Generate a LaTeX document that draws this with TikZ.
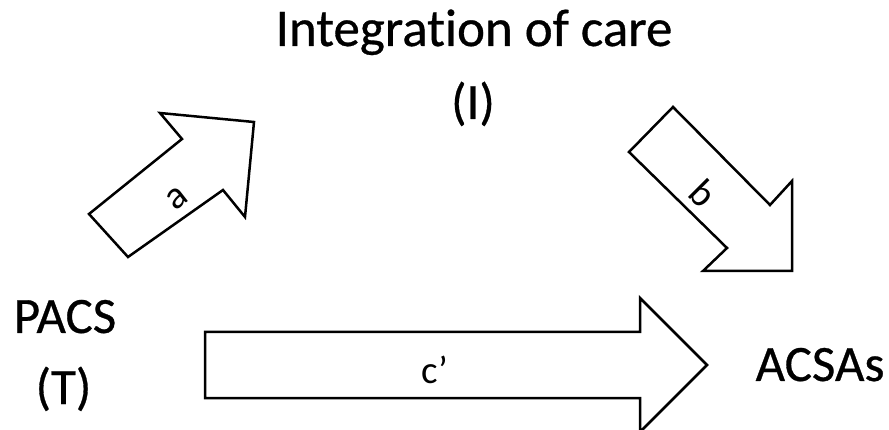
\documentclass[tikz,border=0pt]{standalone}
\usepackage{fontspec}
\setmainfont{Carlito}[Ligatures=NoCommon]
\newfontfamily\bigfont{Carlito}[Ligatures=NoCommon,FakeBold=0.6]
\begin{document}
\begin{tikzpicture}[x=1pt,y=-1pt,
  blockarrow/.style={draw=black,line width=2.5pt,line join=miter,fill=white},
  big/.style={font=\bigfont\fontsize{51}{61}\selectfont,inner sep=0pt,anchor=base},
  lab/.style={font=\fontsize{39}{47}\selectfont,inner sep=0pt}]
\useasboundingbox (0,0) rectangle (889,430);
% texts
\node[big,font=\bigfont\fontsize{53}{63}\selectfont] (integ) at (474,46) {Integration of care};
\node[big] (I) at (473,119) {(I)};
\node[big] (pacs) at (65,333) {PACS};
\node[big] (T) at (63.5,404) {(T)};
\node[big] (acsas) at (820,381) {ACSAs};
% arrow a
\draw[blockarrow] (89,214) -- (182,139) -- (160,113) -- (254,122) -- (245,217) -- (223,190) -- (128,257) -- cycle;
\node[lab,rotate=38] (a) at (177,198) {a};
% arrow b
\draw[blockarrow] (673,107) -- (770,205) -- (792,181) -- (792,271) -- (703,271) -- (727,248) -- (629,152) -- cycle;
\node[lab,rotate=-45] (b) at (703,193) {b};
% arrow c'
\draw[blockarrow] (205,332) -- (640,332) -- (640,298) -- (707,365) -- (640,432) -- (640,398) -- (205,398) -- cycle;
\node[lab,anchor=base] (c) at (435,383) {c’};
\end{tikzpicture}
\end{document}
